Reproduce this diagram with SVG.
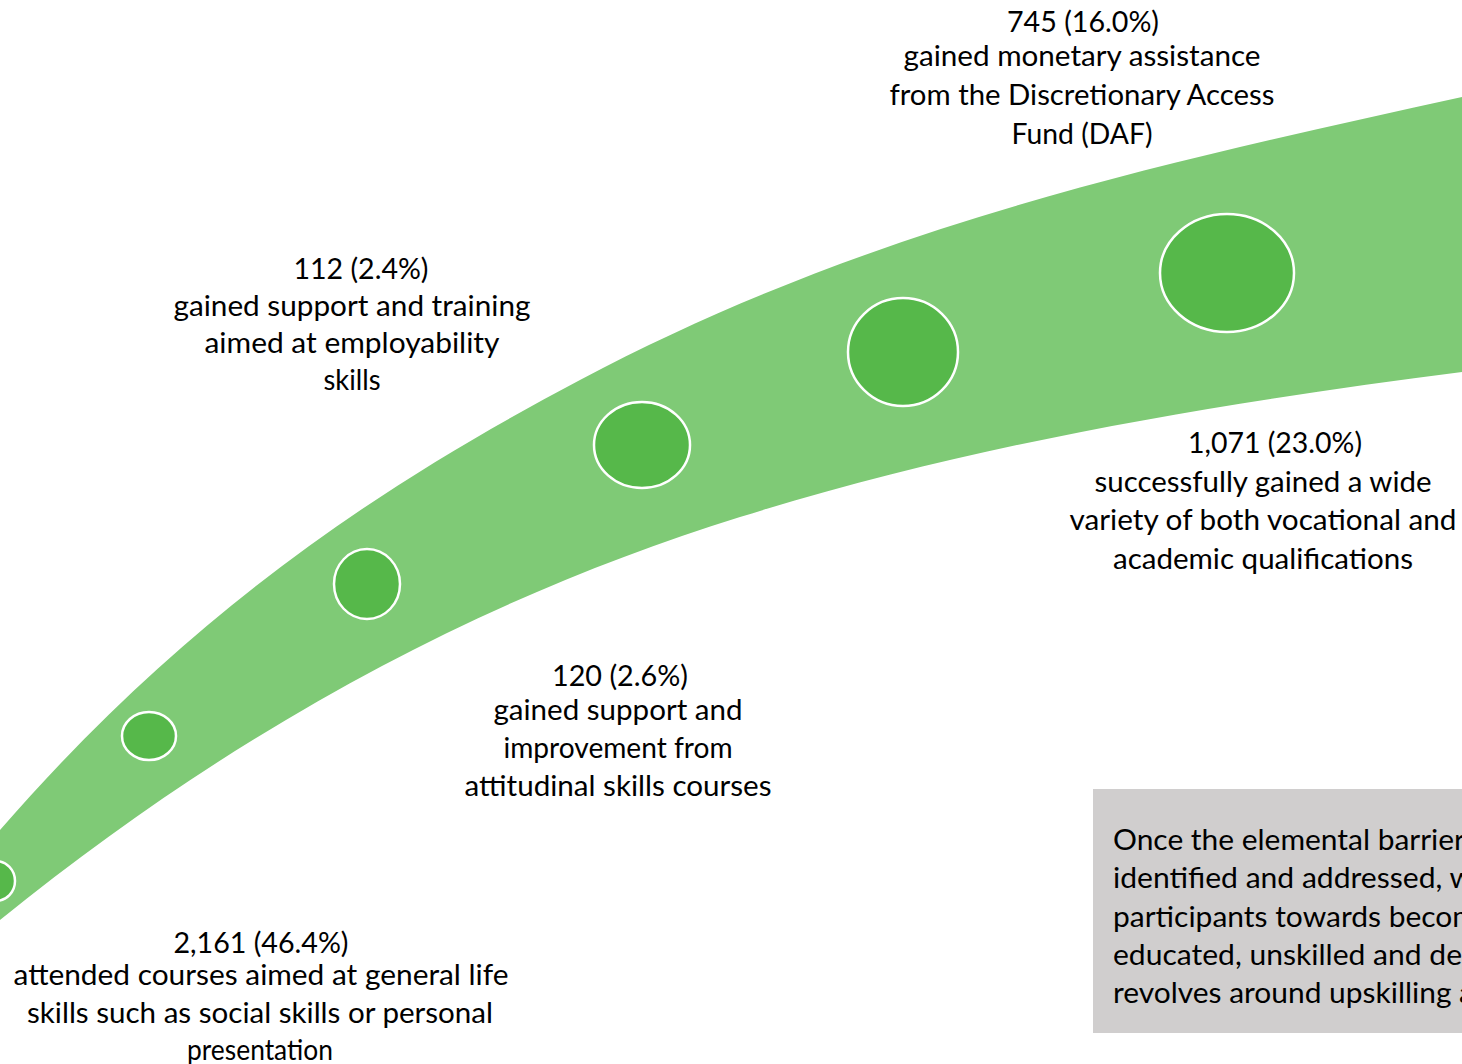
<svg xmlns="http://www.w3.org/2000/svg" width="1462" height="1064" viewBox="0 0 1462 1064">
<style>
.band{fill:#7FCA76}
.dot{fill:#56B84A;stroke:#FFFFFF;stroke-width:2.5}
.t{font-family:Lato,"Open Sans","Liberation Sans",sans-serif;font-size:29px;fill:#000000;text-anchor:middle}
.tl{font-family:Lato,"Open Sans","Liberation Sans",sans-serif;font-size:29px;fill:#000000;text-anchor:start}
.box{fill:#D0CECE}
</style>
<rect x="0" y="0" width="1462" height="1064" fill="#FFFFFF"/>
<g id="band">
<path class="band" d="M -20 853 L 0 830 C 193 608 387 482 580 380 C 874 224 1168 162 1462 97 L 1462 372 C 1221 403 981 442 740 517 C 493 594 247 720 0 920 L -20 936 Z"/>
</g>
<g id="connectors"></g>
<g id="node-1"><ellipse class="dot" cx="-4" cy="881" rx="19" ry="20"/></g>
<g id="node-2"><ellipse class="dot" cx="149" cy="736" rx="27" ry="24"/></g>
<g id="node-3"><ellipse class="dot" cx="367" cy="584" rx="33" ry="35"/></g>
<g id="node-4"><ellipse class="dot" cx="642" cy="445" rx="48" ry="43"/></g>
<g id="node-5"><ellipse class="dot" cx="903" cy="352" rx="55" ry="54"/></g>
<g id="node-6"><ellipse class="dot" cx="1227" cy="273" rx="67" ry="59"/></g>
<g id="label-daf">
<text class="t" x="1083" y="32" textLength="152" lengthAdjust="spacingAndGlyphs">745 (16.0%)</text>
<text class="t" x="1082" y="66" textLength="357" lengthAdjust="spacingAndGlyphs">gained monetary assistance</text>
<text class="t" x="1082" y="105" textLength="385" lengthAdjust="spacingAndGlyphs">from the Discretionary Access</text>
<text class="t" x="1082" y="144" textLength="141" lengthAdjust="spacingAndGlyphs">Fund (DAF)</text>
</g>
<g id="label-employability">
<text class="t" x="361" y="279" textLength="135" lengthAdjust="spacingAndGlyphs">112 (2.4%)</text>
<text class="t" x="352" y="316" textLength="357" lengthAdjust="spacingAndGlyphs">gained support and training</text>
<text class="t" x="352" y="353" textLength="295" lengthAdjust="spacingAndGlyphs">aimed at employability</text>
<text class="t" x="352" y="390" textLength="57" lengthAdjust="spacingAndGlyphs">skills</text>
</g>
<g id="label-attitudinal">
<text class="t" x="620" y="686" textLength="136" lengthAdjust="spacingAndGlyphs">120 (2.6%)</text>
<text class="t" x="618" y="720" textLength="249" lengthAdjust="spacingAndGlyphs">gained support and</text>
<text class="t" x="618" y="758" textLength="229" lengthAdjust="spacingAndGlyphs">improvement from</text>
<text class="t" x="618" y="796" textLength="307" lengthAdjust="spacingAndGlyphs">attitudinal skills courses</text>
</g>
<g id="label-life-skills">
<text class="t" x="261" y="953" textLength="175" lengthAdjust="spacingAndGlyphs">2,161 (46.4%)</text>
<text class="t" x="261" y="985" textLength="495" lengthAdjust="spacingAndGlyphs">attended courses aimed at general life</text>
<text class="t" x="260" y="1023" textLength="466" lengthAdjust="spacingAndGlyphs">skills such as social skills or personal</text>
<text class="t" x="260" y="1060" textLength="146" lengthAdjust="spacingAndGlyphs">presentation</text>
</g>
<g id="label-qualifications">
<text class="t" x="1275" y="453" textLength="174" lengthAdjust="spacingAndGlyphs">1,071 (23.0%)</text>
<text class="t" x="1263" y="492" textLength="337" lengthAdjust="spacingAndGlyphs">successfully gained a wide</text>
<text class="t" x="1263" y="530" textLength="387" lengthAdjust="spacingAndGlyphs">variety of both vocational and</text>
<text class="t" x="1263" y="569" textLength="300" lengthAdjust="spacingAndGlyphs">academic qualifications</text>
</g>
<g id="note-box">
<rect class="box" x="1093" y="789" width="380" height="244"/>
<text class="tl" x="1113" y="850" textLength="352" lengthAdjust="spacingAndGlyphs">Once the elemental barrier</text>
<text class="tl" x="1113" y="888" textLength="360" lengthAdjust="spacingAndGlyphs">identified and addressed, w</text>
<text class="tl" x="1113" y="927" textLength="364" lengthAdjust="spacingAndGlyphs">participants towards becom</text>
<text class="tl" x="1113" y="965" textLength="349" lengthAdjust="spacingAndGlyphs">educated, unskilled and de</text>
<text class="tl" x="1113" y="1003" textLength="361" lengthAdjust="spacingAndGlyphs">revolves around upskilling a</text>
</g>
</svg>
